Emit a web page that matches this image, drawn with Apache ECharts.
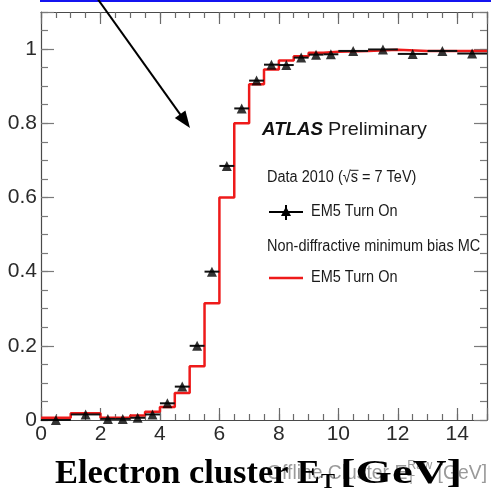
<!DOCTYPE html>
<html>
<head>
<meta charset="utf-8">
<script src="https://cdn.jsdelivr.net/npm/echarts@6/dist/echarts.min.js"></script>
<style>
html, body { margin: 0; padding: 0; background: #ffffff; }
#chart { width: 491px; height: 498px; }
</style>
</head>
<body>
<div id="chart"></div>
<script>
// EM5 trigger turn-on curve: efficiency vs. offline cluster E_T (GeV)

// Bin edges shared by data and simulation
const binEdges = [0, 1, 2, 2.5, 3, 3.5, 4, 4.5, 5, 5.5, 6, 6.5, 7, 7.5, 8, 8.5, 9, 9.5, 10, 11, 12, 13, 14, 15];

// Data 2010, EM5 efficiency per bin
const dataEff = [0.0, 0.015, 0.003, 0.003, 0.006, 0.015, 0.045, 0.09, 0.20, 0.40, 0.685, 0.84,
                 0.915, 0.958, 0.957, 0.977, 0.985, 0.986, 0.995, 0.999, 0.987, 0.995, 0.988];

// Non-diffractive minimum bias MC, EM5 efficiency per bin
const mcEff = [0.006, 0.018, 0.006, 0.006, 0.012, 0.022, 0.035, 0.073, 0.145, 0.315, 0.60, 0.80,
               0.905, 0.945, 0.969, 0.981, 0.99, 0.993, 0.995, 0.998, 0.995, 0.995, 0.995];

// Axis ranges and tick steps
const xRange = [0, 15];
const yRange = [0, 1.1];
const xMajor = 2, xMinor = 0.5;
const yMajor = 0.2, yMinor = 0.05;

const SANS = "'Liberation Sans', Arial, Helvetica, sans-serif";
const SERIF = "'Liberation Serif', 'Times New Roman', serif";
const RED = '#ee1a1a';

// Step outline for the simulated histogram
const mcStep = [];
mcEff.forEach((v, i) => {
  mcStep.push([binEdges[i], v]);
  mcStep.push([binEdges[i + 1], v]);
});

// Data points: [low edge, high edge, centre, efficiency]
const dataPts = dataEff.map((v, i) => [binEdges[i], binEdges[i + 1], (binEdges[i] + binEdges[i + 1]) / 2, v]);

const chart = echarts.init(document.getElementById('chart'), null, { renderer: 'canvas' });

function isMultiple(v, step) {
  const r = v / step;
  return Math.abs(r - Math.round(r)) < 1e-6;
}

function makeX(position, step, longTicks, withLabels, withLine) {
  return {
    type: 'value', position: position, min: xRange[0], max: xRange[1], interval: step,
    axisLine: { show: withLine, onZero: false, lineStyle: { color: '#4a4a4a', width: 1.2 } },
    axisTick: { show: true, inside: true, length: longTicks ? 12 : 6, lineStyle: { color: '#6a6a6a', width: 1.2 } },
    axisLabel: withLabels ? {
      show: true, margin: 4, fontSize: 21, color: '#2a2a2a', fontFamily: SANS,
      formatter: v => (isMultiple(v, xMajor) ? String(v) : '')
    } : { show: false },
    splitLine: { show: false }
  };
}

function makeY(position, step, longTicks, withLabels, withLine) {
  return {
    type: 'value', position: position, min: yRange[0], max: yRange[1], interval: step,
    axisLine: { show: withLine, onZero: false, lineStyle: { color: '#4a4a4a', width: 1.2 } },
    axisTick: { show: true, inside: true, length: longTicks ? 13 : 7, lineStyle: { color: '#7a7a7a', width: 1.2 } },
    axisLabel: withLabels ? {
      show: true, margin: 4, fontSize: 21, color: '#2a2a2a', fontFamily: SANS,
      formatter: v => (isMultiple(v, yMajor) ? String(+v.toFixed(1)) : '')
    } : { show: false },
    splitLine: { show: false }
  };
}

// Text width helper for placing the composed titles
const measureCtx = document.createElement('canvas').getContext('2d');
function textWidth(str, font) {
  measureCtx.font = font;
  return measureCtx.measureText(str).width;
}

// Text piece fitted horizontally between two x positions
function fittedText(str, x0, x1, yMid, size, weight, family, color, z) {
  const font = weight + ' ' + size + 'px ' + family;
  const w = textWidth(str, font);
  return {
    type: 'text', x: x0, y: yMid, scaleX: (x1 - x0) / w, z: z || 10,
    style: { text: str, x: 0, y: 0, fill: color, font: font, textAlign: 'left', textVerticalAlign: 'middle' }
  };
}

function plainText(str, x, yMid, size, opts) {
  opts = opts || {};
  const font = (opts.style || 'normal') + ' ' + (opts.weight || 'normal') + ' ' + size + 'px ' + (opts.family || SANS);
  return {
    type: 'text', x: x, y: yMid, scaleY: opts.scaleY || 1.12, z: 10,
    style: { text: str, x: 0, y: 0, fill: opts.color || '#1a1a1a', font: font, textAlign: 'left', textVerticalAlign: 'middle' }
  };
}

// Legend block
const legendFont = 14.5;
const dataLabel = 'Data 2010 (\u221As = 7 TeV)';
const dataLabelFont = 'normal normal ' + legendFont + 'px ' + SANS;
const sqrtPrefixW = textWidth('Data 2010 (\u221A', dataLabelFont);
const sW = textWidth('s', dataLabelFont);

const triangle = (cx, cy, s) => [[cx, cy - s * 0.55], [cx + s * 0.5, cy + s * 0.4], [cx - s * 0.5, cy + s * 0.4]];

// Arrow pointing at the rising edge
const arrowTail = [97, -2], arrowTip = [190, 128];
const adx = arrowTip[0] - arrowTail[0], ady = arrowTip[1] - arrowTail[1];
const alen = Math.hypot(adx, ady);
const ux = adx / alen, uy = ady / alen;
const headLen = 17, headHalf = 6.5;
const baseX = arrowTip[0] - ux * headLen, baseY = arrowTip[1] - uy * headLen;

// Composed axis titles
const titleY = 474;

// Grey ROOT-style axis title, laid out piece by piece and fitted to its span
const greyTitle = (function () {
  const f = 'normal normal 17px ' + SANS;
  const fs = 'normal normal 11px ' + SANS;
  const grey = '#9a9a9a';
  let x = 0;
  const kids = [];
  const push = (s, font, dy) => {
    kids.push({ type: 'text', x: x, y: dy, z: 5,
      style: { text: s, x: 0, y: 0, fill: grey, font: font, textAlign: 'left', textVerticalAlign: 'middle' } });
    return textWidth(s, font);
  };
  x += push('Offline Cluster E', f, 0);
  const wT = push('T', fs, 6);
  push('Raw', fs, -7);
  x += Math.max(wT, textWidth('Raw', fs));
  x += push(' [GeV]', f, 0);
  return { type: 'group', x: 267, y: titleY, scaleX: (487 - 267) / x, scaleY: 1.15, z: 5, children: kids };
})();

const graphics = [
  // blue rule along the top
  { type: 'rect', shape: { x: 40, y: 0, width: 451, height: 2 }, style: { fill: '#1414f0' }, z: 20 },
  // arrow
  { type: 'line', shape: { x1: arrowTail[0], y1: arrowTail[1], x2: baseX + ux * 2, y2: baseY + uy * 2 },
    style: { stroke: '#000', lineWidth: 2 }, z: 20 },
  { type: 'polygon', shape: { points: [arrowTip,
      [baseX - uy * headHalf, baseY + ux * headHalf],
      [baseX + uy * headHalf, baseY - ux * headHalf]] },
    style: { fill: '#000' }, z: 20 },

  // ATLAS Preliminary
  fittedText('ATLAS', 262, 323, 130, 19, 'italic bold', SANS, '#111', 10),
  fittedText('Preliminary', 328, 427, 130, 19, 'normal', SANS, '#1a1a1a', 10),

  // Data entry
  plainText(dataLabel, 267, 178, legendFont),
  { type: 'line', shape: { x1: 267 + sqrtPrefixW - 0.5, y1: 170.3, x2: 267 + sqrtPrefixW + sW + 0.5, y2: 170.3 },
    style: { stroke: '#1a1a1a', lineWidth: 1 }, z: 10 },
  { type: 'line', shape: { x1: 269, y1: 212, x2: 303, y2: 212 }, style: { stroke: '#000', lineWidth: 2 }, z: 10 },
  { type: 'line', shape: { x1: 286, y1: 205, x2: 286, y2: 220 }, style: { stroke: '#000', lineWidth: 2 }, z: 10 },
  { type: 'polygon', shape: { points: triangle(286, 212, 10) }, style: { fill: '#000' }, z: 10 },
  plainText('EM5 Turn On', 311, 212, legendFont),

  // MC entry
  plainText('Non-diffractive minimum bias MC', 267, 247, legendFont),
  { type: 'line', shape: { x1: 269, y1: 278, x2: 303, y2: 278 }, style: { stroke: RED, lineWidth: 2.4 }, z: 10 },
  plainText('EM5 Turn On', 311, 278, legendFont),

  greyTitle,

  // bold axis title on top
  fittedText('Electron cluster E', 55, 320, titleY, 34, 'bold', SERIF, '#000', 15),
  fittedText('T', 321, 335, titleY + 9, 21, 'bold', SERIF, '#000', 15),
  fittedText('[GeV]', 340, 462, titleY, 34, 'bold', SERIF, '#000', 15)
];

const option = {
  animation: false,
  backgroundColor: '#ffffff',
  grid: { left: 41, right: 4, top: 12, bottom: 78, containLabel: false, outerBoundsMode: 'none' },
  xAxis: [
    makeX('bottom', xMajor, true, true, true),
    makeX('bottom', xMinor, false, false, false),
    makeX('top', xMajor, true, false, true),
    makeX('top', xMinor, false, false, false)
  ],
  yAxis: [
    makeY('left', yMajor, true, true, true),
    makeY('left', yMinor, false, false, false),
    makeY('right', yMajor, true, false, true),
    makeY('right', yMinor, false, false, false)
  ],
  series: [
    {
      name: 'MC EM5 Turn On', type: 'line', xAxisIndex: 0, yAxisIndex: 0,
      data: mcStep, symbol: 'none', silent: true, z: 3,
      lineStyle: { color: RED, width: 2.5 }
    },
    {
      name: 'Data bin width', type: 'custom', xAxisIndex: 0, yAxisIndex: 0, z: 4, clip: false,
      data: dataPts,
      encode: { x: [0, 1], y: 3 },
      renderItem: function (params, api) {
        const a = api.coord([api.value(0), api.value(3)]);
        const b = api.coord([api.value(1), api.value(3)]);
        return {
          type: 'line',
          shape: { x1: a[0], y1: a[1], x2: b[0], y2: b[1] },
          style: { stroke: '#111', lineWidth: 2 }
        };
      }
    },
    {
      name: 'Data EM5 Turn On', type: 'scatter', xAxisIndex: 0, yAxisIndex: 0, z: 5, clip: false,
      data: dataPts.map(p => [p[2], p[3]]),
      symbol: 'triangle', symbolSize: [10, 10],
      itemStyle: { color: '#000' }
    }
  ],
  graphic: graphics
};

chart.setOption(option);
</script>
</body>
</html>
